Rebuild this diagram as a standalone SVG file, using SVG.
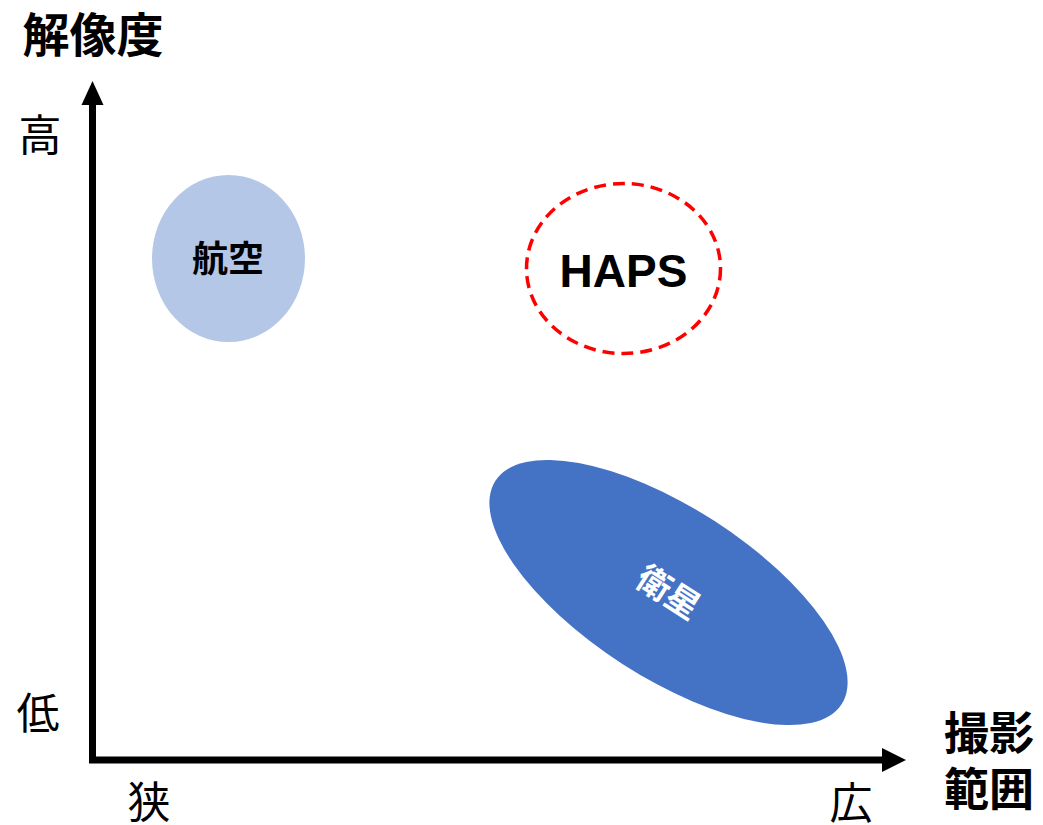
<svg xmlns="http://www.w3.org/2000/svg" width="1043" height="825" viewBox="0 0 1043 825">
<style>
.jp{font-family:"Noto Sans CJK JP","Noto Sans",sans-serif;fill:#000}
.b{font-weight:bold}
.lat{font-family:"Liberation Sans",Arial,sans-serif;font-weight:bold;fill:#000}
.axis{stroke:#000;stroke-width:7;fill:none}
</style>
<rect width="1043" height="825" fill="#fff"/>
<g id="connectors">
<polyline class="axis" points="92.5,100 92.5,760 888,760" stroke-linejoin="miter"/>
<polygon points="92.5,81 81.5,105 103.5,105" fill="#000"/>
<polygon points="906,760 882,748 882,772" fill="#000"/>
</g>
<g id="axis-labels">
<text class="jp b" x="93" y="52" font-size="47" text-anchor="middle">解像度</text>
<text class="jp" x="40" y="151" font-size="43" text-anchor="middle">高</text>
<text class="jp" x="38" y="729" font-size="43" text-anchor="middle">低</text>
<text class="jp" x="149" y="818" font-size="43" text-anchor="middle">狭</text>
<text class="jp" x="851" y="819" font-size="43" text-anchor="middle">広</text>
<text class="jp b" x="989" y="750" font-size="45" text-anchor="middle">撮影</text>
<text class="jp b" x="989" y="806" font-size="45" text-anchor="middle">範囲</text>
</g>
<g id="node-koku">
<ellipse cx="228.5" cy="258.5" rx="76.5" ry="83.5" fill="#b4c7e7"/>
<text class="jp b" x="228" y="272" font-size="36" text-anchor="middle">航空</text>
</g>
<g id="node-haps">
<ellipse cx="623.5" cy="268.5" rx="97" ry="85" fill="none" stroke="#ff0000" stroke-width="3.5" stroke-dasharray="12 7"/>
<text class="lat" x="623.5" y="287" font-size="46" text-anchor="middle">HAPS</text>
</g>
<g id="node-eisei">
<g transform="translate(668.5,592.5) rotate(32.85)">
<ellipse cx="0" cy="0" rx="206" ry="85" fill="#4472c4"/>
<text class="jp b" x="0" y="12" font-size="34" text-anchor="middle" fill="#fff" style="fill:#fff">衛星</text>
</g>
</g>
</svg>
